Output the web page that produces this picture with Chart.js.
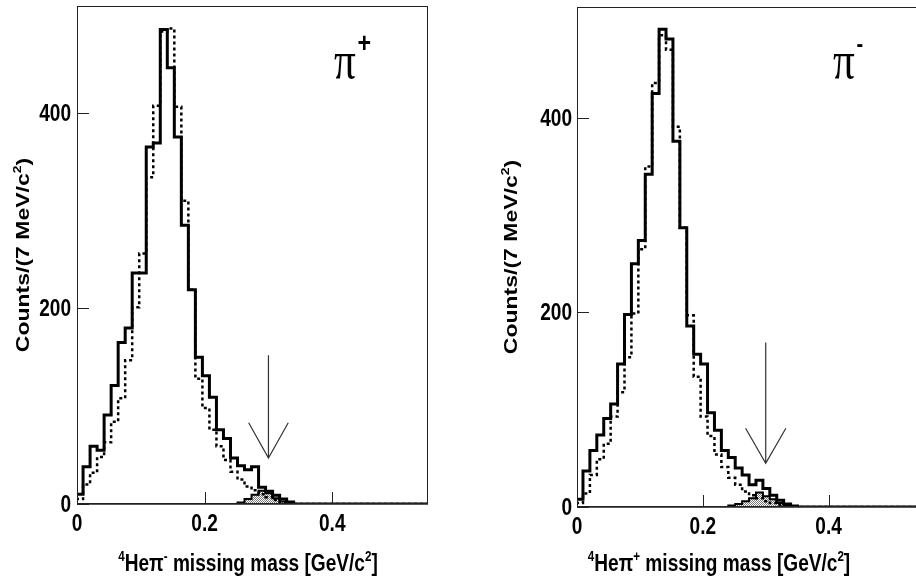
<!DOCTYPE html>
<html lang="en">
<head>
<meta charset="UTF-8">
<title>4He pi missing mass</title>
<script src="https://cdn.jsdelivr.net/npm/chart.js"></script>
<style>
  html, body { margin: 0; padding: 0; background: #fff; overflow: hidden; }
  #wrap { position: relative; width: 916px; height: 581px; overflow: hidden; }
  #wrap canvas { position: absolute; top: 0; }
  #leftChart { left: 0; }
  #rightChart { left: 460px; }
</style>
</head>
<body>
<div id="wrap">
  <canvas id="leftChart" width="450" height="581"></canvas>
  <canvas id="rightChart" width="480" height="581"></canvas>
</div>
<script>
// histogram binning (GeV/c^2)
const binLow = -0.0015;
const binWidth = 0.011;

const xTicks = [0, 0.2, 0.4];
const xTickLabels = ['0', '0.2', '0.4'];
const yTicks = [0, 200, 400];
const yTickLabels = ['0', '200', '400'];

// pi+ panel (left)
const plusData = [10, 38, 59, 55, 91, 121, 165, 180, 236, 236, 365, 369, 485, 446, 375, 285, 219, 150, 131, 109,
  76, 67, 47, 39, 35, 38, 17, 13, 9, 5, 2, 0, 0, 0, 0, 0, 0, 0, 0, 0,
  0, 0, 0, 0, 0, 0, 0, 0, 0, 0, 0];
const plusSim = [5, 20, 32, 48, 63, 84, 108, 147, 201, 256, 334, 407, 483, 486, 406, 310, 219, 128, 98, 76,
  59, 45, 33, 25, 18, 14, 10, 7, 4, 2, 1, 0, 0, 0, 0, 0, 0, 0, 0, 0,
  0, 0, 0, 0, 0, 0, 0, 0, 0, 0, 0];
const plusCut = [null, null, null, null, null, null, null, null, null, null, null, null, null, null, null, null, null, null, null, 0,
  0, 0, 0, 1.5, 5, 9.5, 13.5, 11, 6, 2.6, 1, 0, 0, 0, 0, 0, 0, 0, 0, 0,
  0, 0, 0, 0, 0, 0, 0, 0, 0, 0, 0];
const plusArrow = { x: 0.30, top: 152, tip: 47, dx: 0.031, dy: 36 };

// pi- panel (right)
const minusData = [8, 37, 58, 74, 91, 106, 147, 198, 250, 274, 342, 425, 491, 481, 376, 287, 186, 157, 147, 97,
  79, 58, 51, 40, 33, 23, 27.5, 19, 12, 7, 3, 1, 0, 0, 0, 0, 0, 0, 0, 0,
  0, 0, 0, 0, 0, 0, 0, 0, 0, 0, 0];
const minusSim = [4, 14, 33, 49, 65, 93, 118, 154, 199, 265, 350, 436, 485, 470, 391, 287, 197, 134, 93, 73,
  54, 41, 30, 23, 16, 12, 9, 6, 4, 2, 1, 0, 0, 0, 0, 0, 0, 0, 0, 0,
  0, 0, 0, 0, 0, 0, 0, 0, 0, 0, 0];
const minusCut = [null, null, null, null, null, null, null, null, null, null, null, null, null, null, null, null, null, null, null, 0,
  0, 0, 1.5, 3, 6, 9, 15, 11, 8, 4, 1.5, 0, 0, 0, 0, 0, 0, 0, 0, 0,
  0, 0, 0, 0, 0, 0, 0, 0, 0, 0, 0];
const minusArrow = { x: 0.30, top: 169, tip: 45, dx: 0.032, dy: 36 };

const FONT = "'Liberation Sans', Arial, sans-serif";
const FS = 23;        // label font size
const SQUEEZE = 0.83; // the figure is horizontally compressed

// grey dotted fill like the ROOT hatch
const patCanvas = document.createElement('canvas');
patCanvas.width = 2; patCanvas.height = 2;
const pctx = patCanvas.getContext('2d');
pctx.fillStyle = '#ffffff'; pctx.fillRect(0, 0, 2, 2);
pctx.fillStyle = '#7a7a7a'; pctx.fillRect(0, 0, 1, 1); pctx.fillRect(1, 1, 1, 1);
const hatch = pctx.createPattern(patCanvas, 'repeat');

function histPoints(counts) {
  const pts = [];
  counts.forEach((v, i) => {
    if (v === null) return;
    const edge = binLow + i * binWidth;
    if (!pts.length) pts.push({ x: edge, y: 0 });
    pts.push({ x: edge, y: v });
  });
  pts.push({ x: binLow + counts.length * binWidth, y: counts[counts.length - 1] });
  return pts;
}

// text with superscripts: parts = [[text, isSup], ...], drawn in the current transform
function richWidth(ctx, parts, size) {
  let w = 0;
  parts.forEach(([t, sup]) => {
    ctx.font = 'bold ' + Math.round(sup ? size * 0.62 : size) + 'px ' + FONT;
    w += ctx.measureText(t).width;
  });
  return w;
}
function drawRich(ctx, parts, cx, baseY, size) {
  let x = cx - richWidth(ctx, parts, size) / 2;
  ctx.textAlign = 'left';
  ctx.textBaseline = 'alphabetic';
  parts.forEach(([t, sup]) => {
    ctx.font = 'bold ' + Math.round(sup ? size * 0.62 : size) + 'px ' + FONT;
    ctx.fillText(t, x, sup ? baseY - size * 0.42 : baseY);
    x += ctx.measureText(t).width;
  });
}
// squeezed horizontal label
function label(ctx, str, x, y, align, baseline) {
  ctx.save();
  ctx.translate(x, y);
  ctx.scale(SQUEEZE, 1);
  ctx.font = 'bold ' + FS + 'px ' + FONT;
  ctx.textAlign = align;
  ctx.textBaseline = baseline;
  ctx.fillText(str, 0, 0);
  ctx.restore();
}

const decor = {
  id: 'decor',
  afterDatasetsDraw(chart, args, o) {
    const { ctx, chartArea: a, scales: { x, y } } = chart;
    ctx.save();
    ctx.strokeStyle = '#222';
    ctx.lineWidth = 1;
    ctx.strokeRect(a.left + 0.5, a.top + 0.5, a.right - a.left - 1, a.bottom - a.top - 1);
    ctx.beginPath();
    xTicks.forEach(v => {
      const px = Math.round(x.getPixelForValue(v)) + 0.5;
      ctx.moveTo(px, a.bottom); ctx.lineTo(px, a.bottom - 12);
    });
    yTicks.forEach(v => {
      const py = Math.round(y.getPixelForValue(v)) + 0.5;
      ctx.moveTo(a.left, py); ctx.lineTo(a.left + 12, py);
    });
    ctx.stroke();
    ctx.lineWidth = 1.5;
    ctx.beginPath();
    ctx.moveTo(a.left, a.bottom); ctx.lineTo(a.right, a.bottom);
    ctx.stroke();

    // arrow marking the cut
    const ar = o.arrow;
    const ax = x.getPixelForValue(ar.x);
    const tipY = y.getPixelForValue(ar.tip);
    ctx.strokeStyle = '#333';
    ctx.lineWidth = 1.2;
    ctx.beginPath();
    ctx.moveTo(ax, y.getPixelForValue(ar.top)); ctx.lineTo(ax, tipY);
    ctx.moveTo(x.getPixelForValue(ar.x - ar.dx), y.getPixelForValue(ar.tip + ar.dy));
    ctx.lineTo(ax, tipY);
    ctx.lineTo(x.getPixelForValue(ar.x + ar.dx), y.getPixelForValue(ar.tip + ar.dy));
    ctx.stroke();

    // tick labels
    ctx.fillStyle = '#000';
    xTicks.forEach((v, i) => label(ctx, xTickLabels[i], x.getPixelForValue(v), a.bottom + 27, 'center', 'alphabetic'));
    yTicks.forEach((v, i) => label(ctx, yTickLabels[i], a.left - o.yLabelGap, y.getPixelForValue(v) + 8, 'right', 'alphabetic'));

    // particle label
    ctx.save();
    ctx.translate(o.piX, o.piY);
    ctx.scale(SQUEEZE, 1);
    ctx.textAlign = 'left';
    ctx.textBaseline = 'alphabetic';
    ctx.font = "52px 'Liberation Serif', 'DejaVu Serif', serif";
    ctx.fillText('π', 0, 0);
    const pw = ctx.measureText('π').width;
    ctx.font = 'bold ' + o.signSize + 'px ' + FONT;
    ctx.fillText(o.piSign, pw + 2, o.signDy);
    ctx.restore();

    // axis titles
    ctx.save();
    ctx.translate(o.xTitleX, o.xTitleY);
    ctx.scale(SQUEEZE, 1);
    drawRich(ctx, o.xTitle, 0, 0, FS);
    ctx.restore();

    ctx.save();
    ctx.translate(o.yTitleX, (a.top + a.bottom) / 2);
    ctx.scale(SQUEEZE, 1);
    ctx.rotate(-Math.PI / 2);
    drawRich(ctx, [['Counts/(7 MeV/c', false], ['2', true], [')', false]], 0, 8, FS);
    ctx.restore();
    ctx.restore();
  }
};

function makeChart(id, data, sim, cut, yMax, geo, deco) {
  return new Chart(document.getElementById(id), {
    type: 'line',
    data: {
      datasets: [
        { data: histPoints(data), borderColor: '#000', borderWidth: 3, stepped: 'before', fill: false, order: 0 },
        { data: histPoints(sim), borderColor: '#000', borderWidth: 2.5, borderDash: [3, 3], stepped: 'before', fill: false, order: 1 },
        { data: histPoints(cut), borderColor: '#000', borderWidth: 2, backgroundColor: hatch, stepped: 'before', fill: 'origin', order: 2 }
      ]
    },
    options: {
      responsive: false,
      animation: false,
      layout: { padding: { left: 0, top: geo.top, right: geo.right, bottom: 0 } },
      elements: { point: { radius: 0 }, line: { tension: 0, borderCapStyle: 'butt', borderJoinStyle: 'miter' } },
      plugins: { legend: { display: false }, tooltip: { enabled: false }, decor: deco },
      scales: {
        x: {
          type: 'linear', min: 0, max: 0.55,
          grid: { display: false, drawTicks: false }, border: { display: false },
          ticks: { display: false },
          afterFit: s => { s.height = geo.xH; }
        },
        y: {
          type: 'linear', min: 0, max: yMax,
          grid: { display: false, drawTicks: false }, border: { display: false },
          ticks: { display: false },
          afterFit: s => { s.width = geo.yW; }
        }
      }
    },
    plugins: [decor]
  });
}

makeChart('leftChart', plusData, plusSim, plusCut, 509,
  { top: 6, right: 22, xH: 77, yW: 77 },
  { arrow: plusArrow, piX: 334, piY: 78, piSign: '+', signSize: 28, signDy: -26, yLabelGap: 6,
    xTitleX: 248, xTitleY: 571, yTitleX: 22,
    xTitle: [['4', true], ['Heπ', false], ['-', true], [' missing mass [GeV/c', false], ['2', true], [']', false]] });

makeChart('rightChart', minusData, minusSim, minusCut, 514,
  { top: 7, right: 17, xH: 74, yW: 117 },
  { arrow: minusArrow, piX: 373, piY: 78, piSign: '-', signSize: 24, signDy: -26, yLabelGap: 5,
    xTitleX: 259, xTitleY: 571, yTitleX: 50,
    xTitle: [['4', true], ['Heπ', false], ['+', true], [' missing mass [GeV/c', false], ['2', true], [']', false]] });
</script>
</body>
</html>
